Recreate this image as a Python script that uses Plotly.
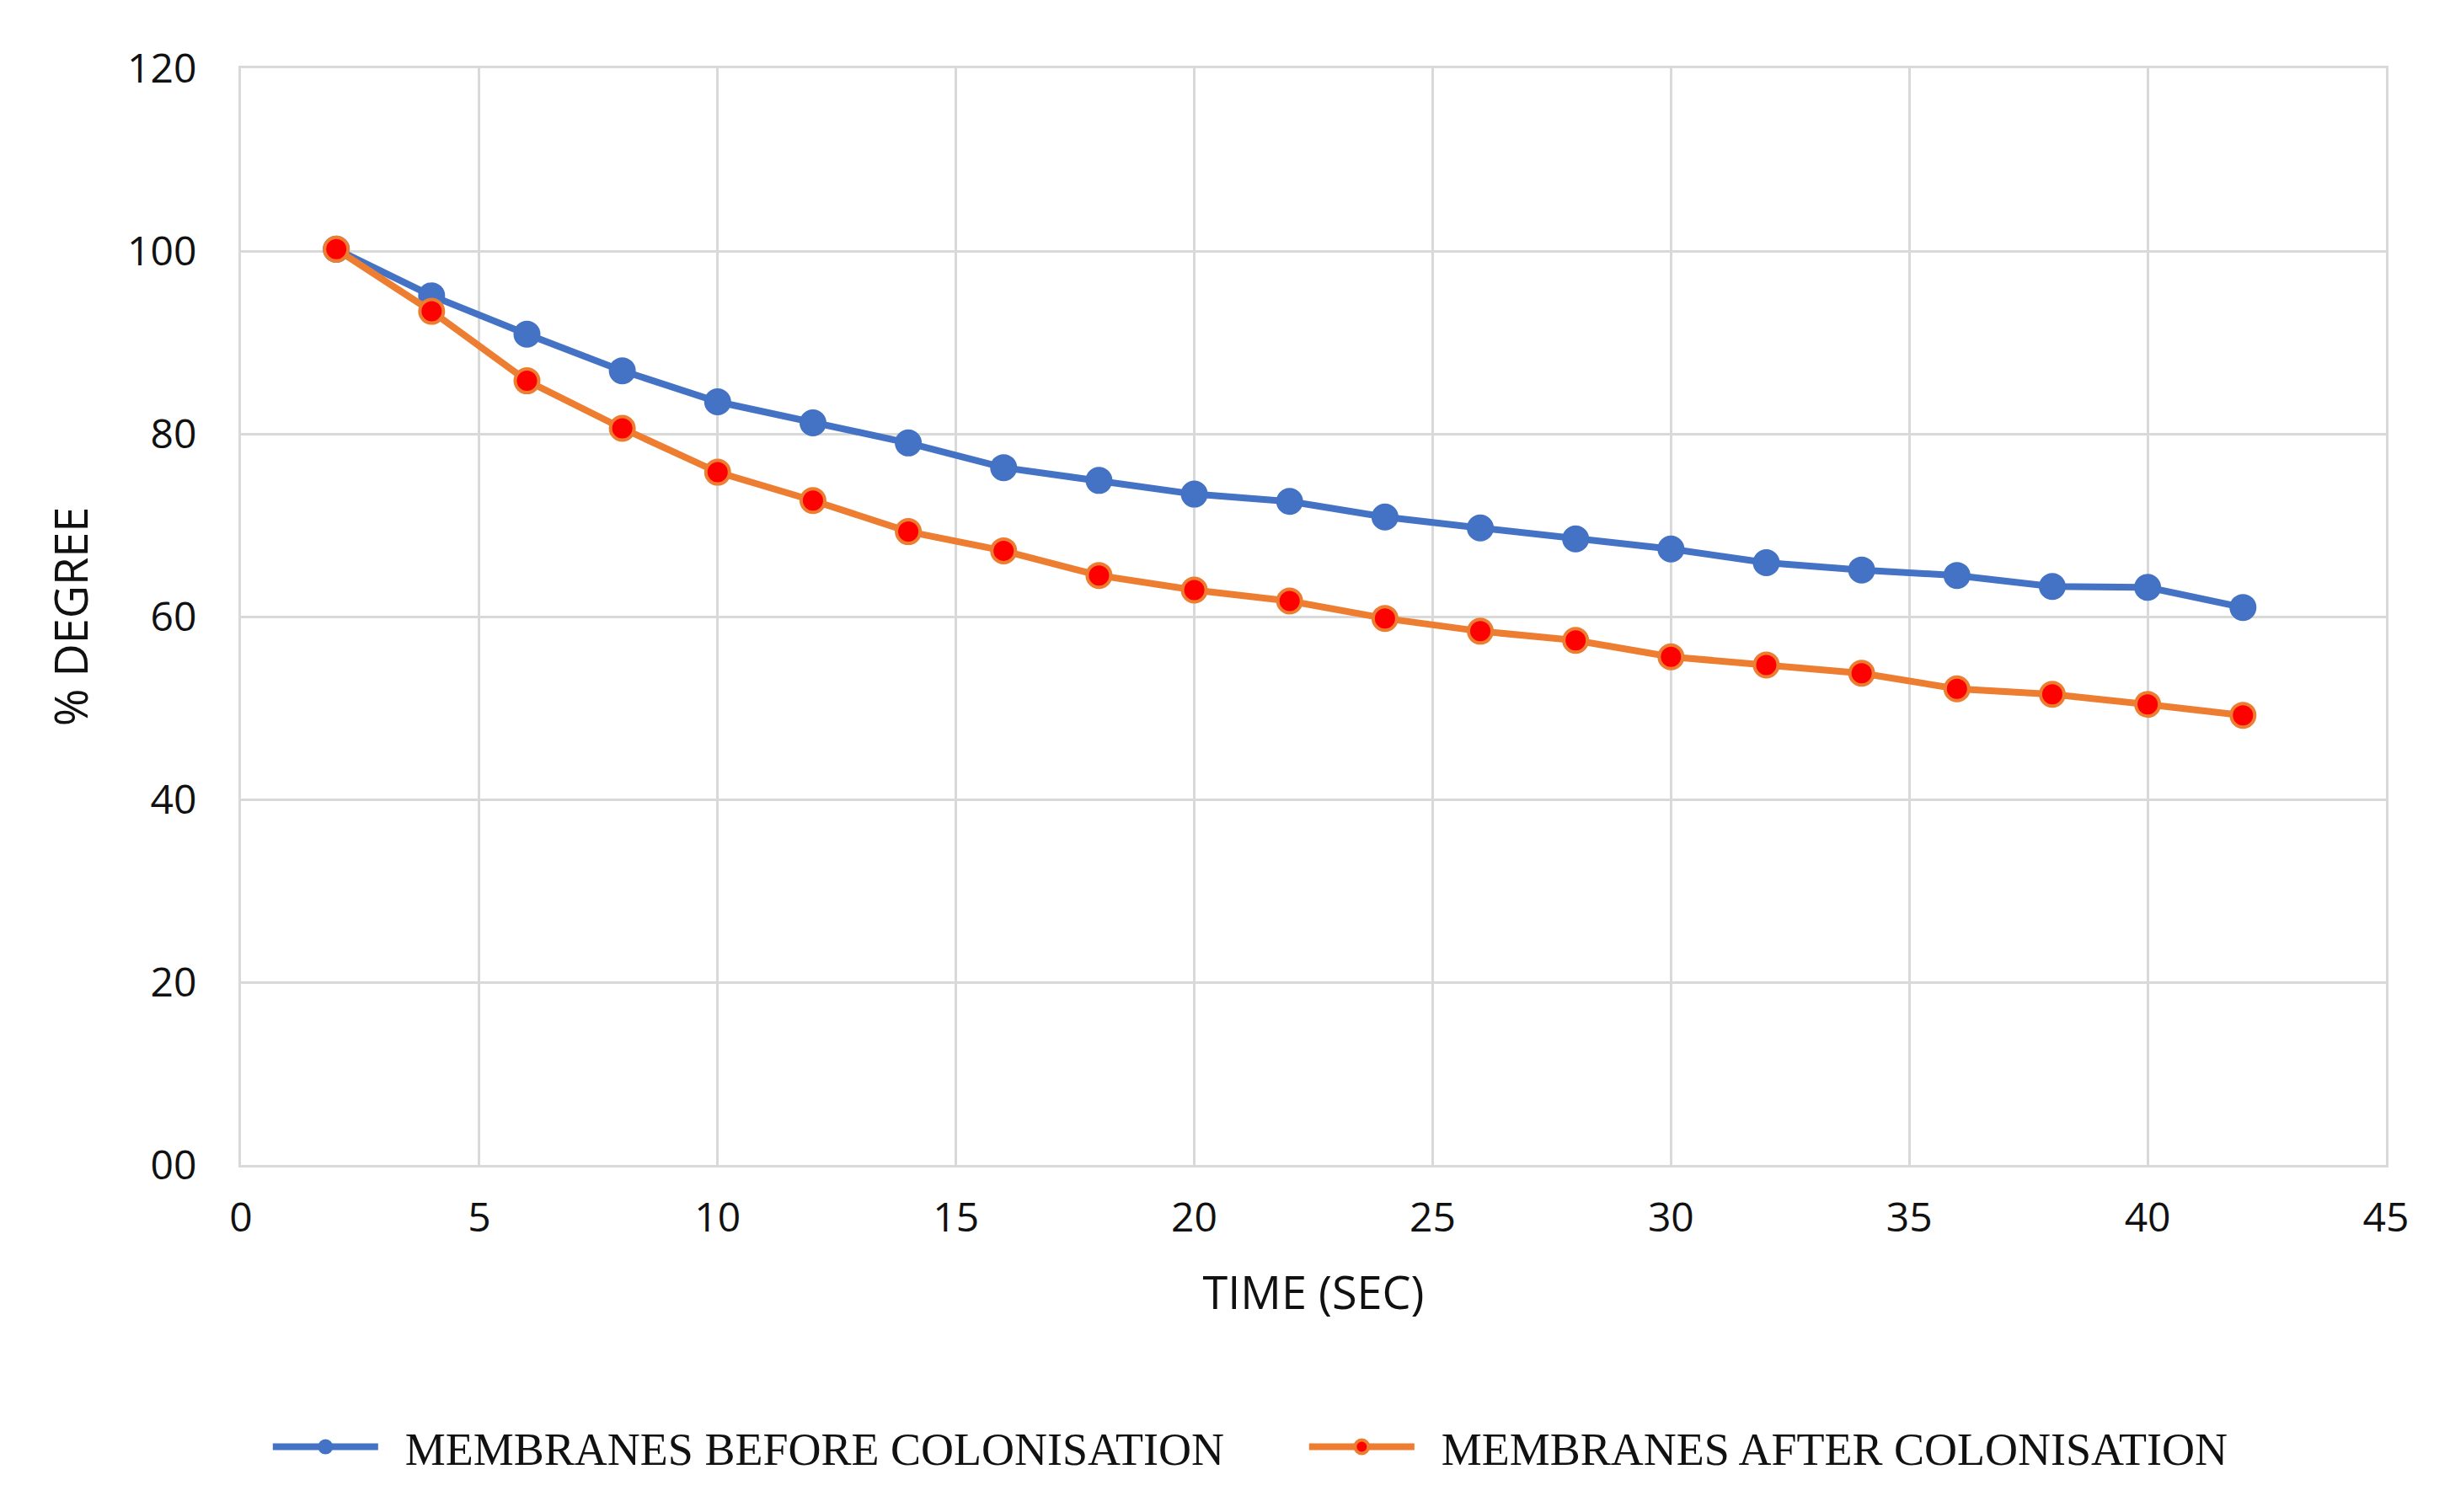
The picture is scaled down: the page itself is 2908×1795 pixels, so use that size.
import plotly.graph_objects as go

time_sec = [2, 4, 6, 8, 10, 12, 14, 16, 18, 20, 22, 24, 26, 28, 30, 32, 34, 36, 38, 40, 42]
before_colonisation = [100.2, 95.1, 90.9, 86.9, 83.5, 81.2, 79.0, 76.3, 74.9, 73.4, 72.6, 70.9, 69.7, 68.5, 67.4, 65.9, 65.1, 64.5, 63.3, 63.2, 61.0]
after_colonisation = [100.2, 93.4, 85.8, 80.6, 75.8, 72.7, 69.3, 67.2, 64.5, 62.9, 61.7, 59.8, 58.4, 57.4, 55.6, 54.7, 53.8, 52.1, 51.5, 50.4, 49.2]

y_tickvals = [0, 20, 40, 60, 80, 100, 120]
y_ticktext = ["00", "20", "40", "60", "80", "100", "120"]
x_tickvals = [0, 5, 10, 15, 20, 25, 30, 35, 40, 45]

fig = go.Figure()
fig.add_trace(go.Scatter(
    x=time_sec, y=before_colonisation, mode="lines+markers",
    name="  MEMBRANES BEFORE COLONISATION",
    line=dict(color="#4472C4", width=8),
    marker=dict(color="#4472C4", size=30, line=dict(color="#4472C4", width=2)),
))
fig.add_trace(go.Scatter(
    x=time_sec, y=after_colonisation, mode="lines+markers",
    name="  MEMBRANES AFTER COLONISATION",
    line=dict(color="#ED7D31", width=8),
    marker=dict(color="#FF0000", size=28, line=dict(color="#ED7D31", width=4)),
))

fig.update_layout(
    width=2908, height=1795,
    paper_bgcolor="white", plot_bgcolor="white",
    margin=dict(l=278, r=84, t=73, b=420),
    font=dict(family="Open Sans, Liberation Sans, sans-serif", color="#111111", size=48),
    legend=dict(
        orientation="h", x=0.496, xanchor="center", y=-0.225, yanchor="top",
        font=dict(family="Liberation Serif, DejaVu Serif, serif", size=54, color="#111111"),
        itemwidth=125, entrywidth=1090, tracegroupgap=0,
    ),
    showlegend=True,
)
fig.update_xaxes(
    range=[0, 45], tickvals=x_tickvals, showgrid=True, gridcolor="#D9D9D9", gridwidth=3,
    zeroline=False, showline=True, linecolor="#D9D9D9", linewidth=3, mirror=True,
    ticks="", ticklabelstandoff=18,
    title=dict(text="TIME (SEC)", font=dict(size=54), standoff=42),
    tickfont=dict(size=48),
)
fig.update_yaxes(
    range=[0, 120], tickvals=y_tickvals, ticktext=y_ticktext, showgrid=True,
    gridcolor="#D9D9D9", gridwidth=3, zeroline=False, showline=True,
    linecolor="#D9D9D9", linewidth=3, mirror=True, ticks="", ticklabelstandoff=40,
    title=dict(text="% DEGREE", font=dict(size=54), standoff=30),
    tickfont=dict(size=48),
)

fig.write_html("out.html")
